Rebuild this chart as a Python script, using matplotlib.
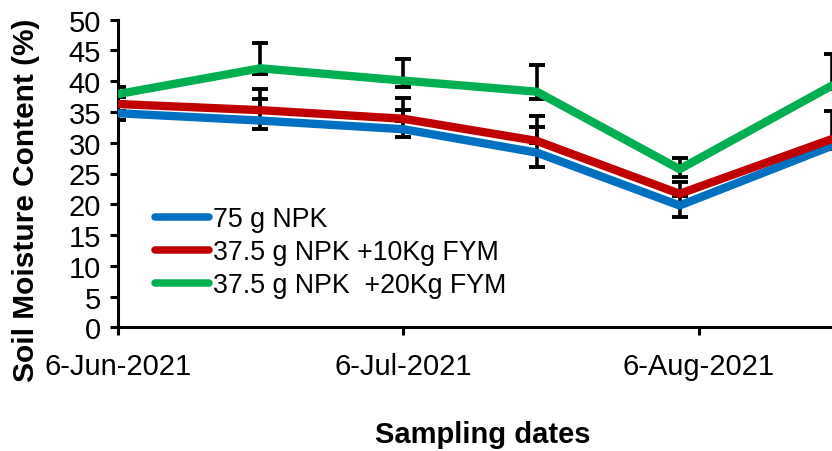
import matplotlib
matplotlib.use("Agg")
import matplotlib.pyplot as plt
import pandas as pd
import numpy as np

plt.rcParams['font.family'] = ['Liberation Sans', 'DejaVu Sans']

# Sampling dates and soil moisture (%) per treatment
dates = ['2021-06-06', '2021-06-21', '2021-07-06', '2021-07-20', '2021-08-04', '2021-08-20']
npk75 = [34.8, 33.6, 32.2, 28.4, 19.8, 29.5]
npk_fym10 = [36.3, 35.3, 33.9, 30.3, 21.7, 30.6]
npk_fym20 = [37.9, 42.1, 40.1, 38.3, 25.7, 39.3]

# Error bar extents (below, above the mean)
npk75_err_lo = [1.1, 1.4, 1.3, 2.3, 1.8, 0.5]
npk75_err_hi = [0.4, 5.2, 5.0, 6.0, 3.8, 0.3]
fym10_err_lo = [0.3, 0.3, 0.3, 0.3, 0.3, 0.3]
fym10_err_hi = [0.3, 1.8, 1.5, 2.2, 0.4, 4.6]
fym20_err_lo = [0.4, 0.9, 1.1, 1.2, 1.2, 0.5]
fym20_err_hi = [1.1, 4.1, 3.5, 4.3, 1.8, 5.1]

labels = ['75 g NPK', '37.5 g NPK +10Kg FYM', '37.5 g NPK  +20Kg FYM']
colors = ['#0070C0', '#C00000', '#00B050']

tick_dates = ['2021-06-06', '2021-07-06', '2021-08-06']
tick_labels = ['6-Jun-2021', '6-Jul-2021', '6-Aug-2021']

W, H = 832, 452
fig = plt.figure(figsize=(W / 100, H / 100), dpi=100)
x0, x1 = 117.6, 832.0
y0, y1 = 328.3, 20.7
ax = fig.add_axes([x0 / W, (H - y0) / H, (x1 - x0) / W, (y0 - y1) / H])

x = pd.to_datetime(dates)
series = [
    (npk75, npk75_err_lo, npk75_err_hi),
    (npk_fym10, fym10_err_lo, fym10_err_hi),
    (npk_fym20, fym20_err_lo, fym20_err_hi),
]

# error bars sit behind the lines
for vals, lo, hi in series:
    ax.errorbar(x, vals, yerr=[lo, hi], fmt='none', ecolor='black',
                elinewidth=2.6, capsize=5.5, capthick=2.8, zorder=2)

for (vals, lo, hi), lab, col in zip(series, labels, colors):
    ax.plot(x, vals, color=col, lw=6.0, label=lab, zorder=3,
            solid_capstyle='round', solid_joinstyle='round')

ax.set_xlim(pd.Timestamp('2021-06-06'), pd.Timestamp('2021-08-20'))
ax.set_ylim(0, 50)
ax.set_yticks(np.arange(0, 51, 5))
ax.set_xticks(pd.to_datetime(tick_dates))
ax.set_xticklabels(tick_labels)

for side in ['top', 'right']:
    ax.spines[side].set_visible(False)
for side in ['left', 'bottom']:
    ax.spines[side].set_linewidth(2.2)
    ax.spines[side].set_color('black')

ax.tick_params(axis='both', direction='out', length=6, width=2.2,
               labelsize=21, colors='black')
ax.tick_params(axis='x', pad=12)
ax.tick_params(axis='y', pad=6)

fig.text(26 / W, 1 - 200 / H, 'Soil Moisture Content (%)', rotation=90,
         ha='center', va='center', fontsize=21.5, fontweight='bold')
fig.text(483 / W, 1 - 435 / H, 'Sampling dates', ha='center', va='center',
         fontsize=21, fontweight='bold')

leg = ax.legend(loc='upper left', bbox_to_anchor=(155 / W, 1 - 207 / H),
                bbox_transform=fig.transFigure, frameon=False, fontsize=19.3,
                handlelength=2.0, handletextpad=0.15, labelspacing=0.26,
                borderpad=0, borderaxespad=0)
for line in leg.get_lines():
    line.set_linewidth(5.4)

fig.savefig('out.png', dpi=100)
